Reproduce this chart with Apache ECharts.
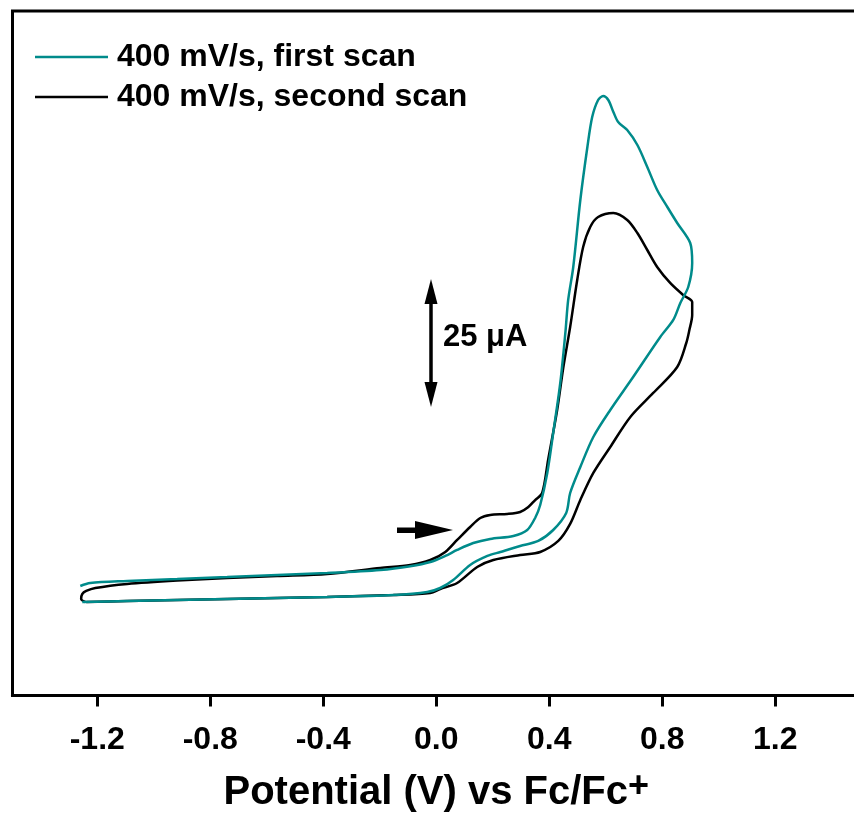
<!DOCTYPE html>
<html>
<head>
<meta charset="utf-8">
<script src="https://cdn.jsdelivr.net/npm/echarts@6/dist/echarts.min.js"></script>
<style>
html,body{margin:0;padding:0;background:#fff;overflow:hidden;width:854px;height:819px;}
#chart{width:866px;height:819px;}
</style>
</head>
<body>
<div id="chart"></div>
<script>
// Potential (V vs Fc/Fc+) and current (uA, arbitrary offset; no y scale shown)
const seriesNames = ["400 mV/s, first scan", "400 mV/s, second scan"];
const xTickValues = [-1.2, -0.8, -0.4, 0.0, 0.4, 0.8, 1.2];

const firstScanV = [-1.260,-1.225,-1.094,-0.917,-0.740,-0.563,-0.386,-0.198,-0.092,-0.021,0.032,0.074,0.131,0.191,0.273,0.322,0.350,0.368,0.393,0.414,0.439,0.457,0.467,0.485,0.510,0.535,0.552,0.573,0.591,0.609,0.627,0.644,0.676,0.712,0.747,0.782,0.818,0.853,0.899,
  0.906,0.892,0.864,0.839,0.793,0.697,0.616,0.556,0.510,0.474,0.460,0.414,0.361,0.297,0.227,0.181,0.120,0.060,0.014,-0.032,-0.152,-0.386,-0.740,-1.094,-1.253];
const firstScanI = [22.73,23.32,23.71,24.10,24.49,24.90,25.27,25.86,26.60,27.42,28.60,29.77,31.13,31.92,32.50,33.67,36.02,38.56,44.81,52.62,62.39,72.16,78.61,85.05,98.14,108.49,114.35,117.68,118.46,117.68,115.33,113.38,111.81,108.88,104.59,100.09,96.77,93.65,89.74,
  85.83,81.14,78.02,74.70,71.38,63.56,57.12,51.84,45.98,40.90,37.00,33.67,31.53,30.55,29.38,28.60,26.84,23.91,22.34,21.56,20.98,20.59,20.20,19.80,19.61];

const secondScanV = [-1.242,-1.257,-1.253,-1.239,-1.207,-1.094,-0.917,-0.740,-0.563,-0.386,-0.198,-0.092,-0.021,0.032,0.074,0.120,0.156,0.191,0.251,0.297,0.326,0.350,0.375,0.396,0.428,0.450,0.474,0.499,0.520,0.545,0.573,0.627,0.676,0.712,0.747,0.782,0.828,0.874,0.906,
  0.906,0.896,0.885,0.853,0.768,0.687,0.616,0.556,0.510,0.474,0.432,0.368,0.297,0.202,0.145,0.074,0.014,-0.021,-0.152,-0.386,-0.740,-1.094,-1.239];
const secondScanI = [19.61,20.20,21.17,21.76,22.34,23.13,23.81,24.30,24.69,25.08,26.25,26.84,27.81,29.38,31.72,34.26,36.02,36.60,36.80,37.19,38.17,39.53,40.90,47.35,57.12,65.52,73.33,82.51,88.96,92.87,94.82,95.60,94.24,91.69,88.37,85.05,81.93,79.58,78.21,
  75.68,72.74,70.20,65.52,60.44,55.75,49.89,44.81,39.53,34.85,31.53,29.38,28.79,27.81,26.45,23.32,22.15,21.37,20.98,20.59,20.20,19.80,19.61];

const pairs = (xs, ys) => xs.map((v, i) => [v, ys[i]]);
const FONT = "'Liberation Sans', Arial, sans-serif";
const TEAL = '#008B8B';

const chart = echarts.init(document.getElementById('chart'), null, {renderer: 'canvas'});
chart.setOption({
  animation: false,
  backgroundColor: '#ffffff',
  grid: {left: 12.5, right: 6, top: 11, bottom: 123.5, show: true, borderColor: '#000', borderWidth: 3, backgroundColor: 'transparent'},
  legend: {
    left: 35, top: 41, orient: 'vertical', padding: 0, itemGap: 8,
    icon: 'rect', itemWidth: 73, itemHeight: 2.5,
    textStyle: {fontFamily: FONT, fontWeight: 'bold', fontSize: 32, color: '#000', padding: [0, 0, 0, 4]},
    data: seriesNames
  },
  xAxis: {
    type: 'value', min: -1.5, max: 1.5, position: 'bottom',
    axisLine: {show: true, lineStyle: {color: '#000', width: 3}},
    splitLine: {show: false},
    axisTick: {show: true, inside: false, length: 11, lineStyle: {color: '#000', width: 3}, customValues: xTickValues},
    axisLabel: {customValues: xTickValues, margin: 29, fontFamily: FONT, fontWeight: 'bold', fontSize: 32, color: '#000',
      formatter: v => v.toFixed(1)},
    name: '{m|Potential (V) vs Fc/Fc}{s|+}',
    nameLocation: 'middle', nameGap: 74,
    nameTextStyle: {
      rich: {
        m: {fontFamily: FONT, fontWeight: 'bold', fontSize: 40, color: '#000', lineHeight: 46},
        s: {fontFamily: FONT, fontWeight: 'bold', fontSize: 36, color: '#000', lineHeight: 30, verticalAlign: 'top'}
      }
    }
  },
  yAxis: {
    type: 'value', min: 1.34, max: 135.06,
    axisLine: {show: false}, axisTick: {show: false}, axisLabel: {show: false}, splitLine: {show: false}
  },
  series: [
    {name: seriesNames[0], type: 'line', data: pairs(firstScanV, firstScanI), showSymbol: false, symbol: 'none', smooth: 0.3,
      lineStyle: {color: TEAL, width: 2.5}, itemStyle: {color: TEAL}, z: 3},
    {name: seriesNames[1], type: 'line', data: pairs(secondScanV, secondScanI), showSymbol: false, symbol: 'none', smooth: 0.3,
      lineStyle: {color: '#000', width: 2.5}, itemStyle: {color: '#000'}, z: 2}
  ],
  graphic: [
    {type: 'line', shape: {x1: 431, y1: 300, x2: 431, y2: 386}, style: {stroke: '#000', lineWidth: 3.5}},
    {type: 'polygon', shape: {points: [[431, 279], [424.5, 304], [437.5, 304]]}, style: {fill: '#000'}},
    {type: 'polygon', shape: {points: [[431, 407], [424.5, 382], [437.5, 382]]}, style: {fill: '#000'}},
    {type: 'text', left: 443, top: 322, style: {text: '25 μA', font: "bold 31px 'Liberation Sans', Arial, sans-serif", fill: '#000'}},
    {type: 'rect', shape: {x: 397, y: 527.5, width: 20, height: 5.5}, style: {fill: '#000'}},
    {type: 'polygon', shape: {points: [[415, 521], [453, 530], [415, 539]]}, style: {fill: '#000'}}
  ]
});
</script>
</body>
</html>
